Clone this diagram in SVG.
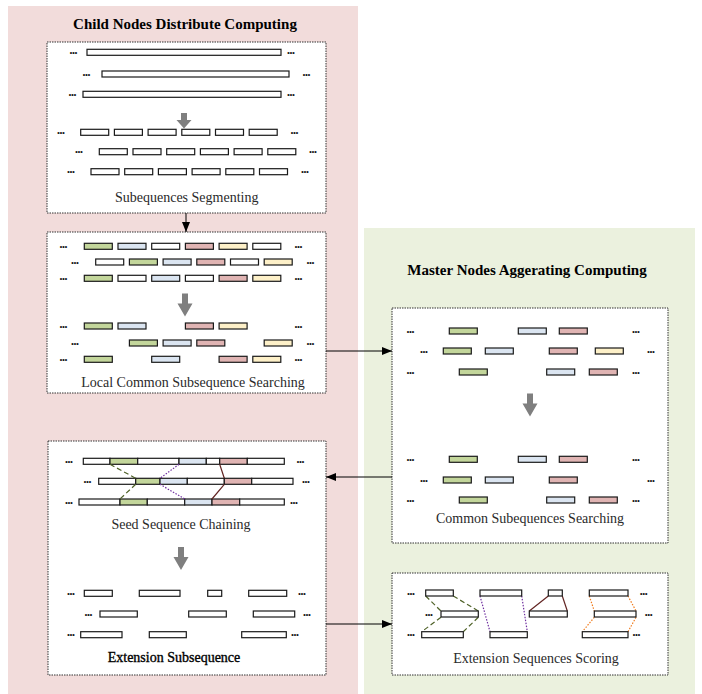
<svg xmlns="http://www.w3.org/2000/svg" width="702" height="694" viewBox="0 0 702 694">
<style>
.bar{fill:#fff;stroke:#1a1a1a;stroke-width:1.2}
.g{fill:#c3d69b}.b{fill:#dbe5f1}.r{fill:#e0b4b3}.y{fill:#fdf0c8}
.box{fill:#fff;stroke:#333;stroke-width:1;stroke-dasharray:1.5 1}
.dots{font-family:"Liberation Sans",Arial,sans-serif;font-size:7px;font-weight:bold;fill:#111;text-anchor:middle}
.lbl{font-family:"Liberation Serif","Times New Roman",serif;font-size:14px;fill:#2a2a2a;text-anchor:middle}
.ttl{font-family:"Liberation Serif","Times New Roman",serif;font-size:15px;font-weight:bold;fill:#000;text-anchor:middle}
.garrow{fill:#7f7f7f}
.conn{stroke:#000;stroke-width:1;fill:none}
.lg{stroke:#4f6228;stroke-width:1.2;stroke-dasharray:5 3;fill:none}
.lp{stroke:#7030a0;stroke-width:1.2;stroke-dasharray:1.5 1.5;fill:none}
.lr{stroke:#632523;stroke-width:1.2;fill:none}
.lo{stroke:#f07c1e;stroke-width:1.2;stroke-dasharray:1.5 1.5;fill:none}
</style>
<defs>
<marker id="ah" markerWidth="10" markerHeight="8" refX="10" refY="4" orient="auto" markerUnits="userSpaceOnUse">
<path d="M0,0 L10,4 L0,8 Z" fill="#000"/>
</marker>
<path id="gdown" d="M-3,0 H3 V10 H7.5 L0,23 L-7.5,10 H-3 Z"/>
</defs>

<g id="region-child">
<rect x="8" y="6" width="350" height="688" fill="#f2dcdb"/>
<text class="ttl" x="185" y="29">Child Nodes Distribute Computing</text>
</g>
<g id="region-master">
<rect x="364" y="228" width="331" height="466" fill="#ebf1de"/>
<text class="ttl" x="527" y="275">Master Nodes Aggerating Computing</text>
</g>

<g id="node-segmenting">
<rect class="box" x="47" y="42" width="279" height="171"/>
<rect class="bar" x="87" y="49.3" width="194" height="6"/>
<rect class="bar" x="102" y="71" width="187" height="6"/>
<rect class="bar" x="83" y="91.3" width="198" height="6"/>
<text class="dots" x="73.5" y="54.8">•••</text><text class="dots" x="291" y="54.8">•••</text>
<text class="dots" x="86.5" y="76.5">•••</text><text class="dots" x="306.5" y="76.5">•••</text>
<text class="dots" x="72.5" y="96.8">•••</text><text class="dots" x="291" y="96.8">•••</text>
<path class="garrow" d="M181,113 H187 V120 H191.5 L184,128.5 L176.5,120 H181 Z"/>
<rect class="bar" x="80.7" y="129.3" width="28" height="6"/><rect class="bar" x="114.4" y="129.3" width="28" height="6"/><rect class="bar" x="148.1" y="129.3" width="28" height="6"/><rect class="bar" x="181.8" y="129.3" width="28" height="6"/><rect class="bar" x="215.5" y="129.3" width="28" height="6"/><rect class="bar" x="249.2" y="129.3" width="28" height="6"/>
<rect class="bar" x="99.3" y="148.7" width="28" height="6"/><rect class="bar" x="133" y="148.7" width="28" height="6"/><rect class="bar" x="166.7" y="148.7" width="28" height="6"/><rect class="bar" x="200.4" y="148.7" width="28" height="6"/><rect class="bar" x="234.1" y="148.7" width="28" height="6"/><rect class="bar" x="267.8" y="148.7" width="28" height="6"/>
<rect class="bar" x="91" y="168.7" width="28" height="6"/><rect class="bar" x="124.7" y="168.7" width="28" height="6"/><rect class="bar" x="158.4" y="168.7" width="28" height="6"/><rect class="bar" x="192.1" y="168.7" width="28" height="6"/><rect class="bar" x="225.8" y="168.7" width="28" height="6"/><rect class="bar" x="259.5" y="168.7" width="28" height="6"/>
<text class="dots" x="61" y="134.8">•••</text><text class="dots" x="294.5" y="134.8">•••</text>
<text class="dots" x="79" y="154.2">•••</text><text class="dots" x="313" y="154.2">•••</text>
<text class="dots" x="71" y="174.2">•••</text><text class="dots" x="305" y="174.2">•••</text>
<text class="lbl" x="186.7" y="201.7">Subequences Segmenting</text>
</g>

<g id="node-local-search">
<rect class="box" x="47" y="232" width="279" height="161"/>
<rect class="bar g" x="84.3" y="243.3" width="28" height="6"/><rect class="bar b" x="118" y="243.3" width="28" height="6"/><rect class="bar" x="151.7" y="243.3" width="28" height="6"/><rect class="bar r" x="185.4" y="243.3" width="28" height="6"/><rect class="bar y" x="219.1" y="243.3" width="28" height="6"/><rect class="bar" x="252.8" y="243.3" width="28" height="6"/>
<rect class="bar" x="95.7" y="259" width="28" height="6"/><rect class="bar g" x="129.4" y="259" width="28" height="6"/><rect class="bar b" x="163.1" y="259" width="28" height="6"/><rect class="bar r" x="196.8" y="259" width="28" height="6"/><rect class="bar" x="230.5" y="259" width="28" height="6"/><rect class="bar y" x="264.2" y="259" width="28" height="6"/>
<rect class="bar g" x="84.3" y="275.3" width="28" height="6"/><rect class="bar" x="118" y="275.3" width="28" height="6"/><rect class="bar b" x="151.7" y="275.3" width="28" height="6"/><rect class="bar" x="185.4" y="275.3" width="28" height="6"/><rect class="bar r" x="219.1" y="275.3" width="28" height="6"/><rect class="bar y" x="252.8" y="275.3" width="28" height="6"/>
<text class="dots" x="63.5" y="248.8">•••</text><text class="dots" x="298.5" y="248.8">•••</text>
<text class="dots" x="75" y="264.5">•••</text><text class="dots" x="310.5" y="264.5">•••</text>
<text class="dots" x="63.5" y="280.8">•••</text><text class="dots" x="298.5" y="280.8">•••</text>
<use href="#gdown" class="garrow" x="185" y="293.5"/>
<rect class="bar g" x="84.3" y="323" width="28" height="6"/><rect class="bar b" x="118" y="323" width="28" height="6"/><rect class="bar r" x="185.4" y="323" width="28" height="6"/><rect class="bar y" x="219.1" y="323" width="28" height="6"/>
<rect class="bar g" x="129.4" y="340" width="28" height="6"/><rect class="bar b" x="163.1" y="340" width="28" height="6"/><rect class="bar r" x="196.8" y="340" width="28" height="6"/><rect class="bar y" x="264.2" y="340" width="28" height="6"/>
<rect class="bar g" x="84.3" y="356.3" width="28" height="6"/><rect class="bar b" x="151.7" y="356.3" width="28" height="6"/><rect class="bar r" x="219.1" y="356.3" width="28" height="6"/><rect class="bar y" x="252.8" y="356.3" width="28" height="6"/>
<text class="dots" x="63.5" y="328.5">•••</text><text class="dots" x="298.5" y="328.5">•••</text>
<text class="dots" x="75" y="345.5">•••</text><text class="dots" x="310.5" y="345.5">•••</text>
<text class="dots" x="63.5" y="361.8">•••</text><text class="dots" x="298.5" y="361.8">•••</text>
<text class="lbl" x="193" y="387">Local Common Subsequence Searching</text>
</g>

<g id="node-common-search">
<rect class="box" x="392" y="308" width="276" height="235"/>
<rect class="bar g" x="449.3" y="328" width="28" height="6"/><rect class="bar b" x="518.3" y="328" width="28" height="6"/><rect class="bar r" x="559.3" y="328" width="28" height="6"/>
<rect class="bar g" x="443.3" y="348" width="28" height="6"/><rect class="bar b" x="485.3" y="348" width="28" height="6"/><rect class="bar r" x="549.3" y="348" width="28" height="6"/><rect class="bar y" x="595.3" y="348" width="28" height="6"/>
<rect class="bar g" x="459.3" y="369" width="28" height="6"/><rect class="bar b" x="546.7" y="369" width="28" height="6"/><rect class="bar r" x="589.3" y="369" width="28" height="6"/>
<text class="dots" x="410.5" y="333.5">•••</text><text class="dots" x="636" y="333.5">•••</text>
<text class="dots" x="424" y="353.5">•••</text><text class="dots" x="651" y="353.5">•••</text>
<text class="dots" x="410.5" y="374.5">•••</text><text class="dots" x="636" y="374.5">•••</text>
<use href="#gdown" class="garrow" x="530" y="393.5"/>
<rect class="bar g" x="449.3" y="456.3" width="28" height="6"/><rect class="bar b" x="518.3" y="456.3" width="28" height="6"/><rect class="bar r" x="559.3" y="456.3" width="28" height="6"/>
<rect class="bar g" x="443.3" y="477" width="28" height="6"/><rect class="bar b" x="485.3" y="477" width="28" height="6"/><rect class="bar r" x="549.3" y="477" width="28" height="6"/>
<rect class="bar g" x="459.3" y="497" width="28" height="6"/><rect class="bar b" x="546.7" y="497" width="28" height="6"/><rect class="bar r" x="589.3" y="497" width="28" height="6"/>
<text class="dots" x="410.5" y="461.8">•••</text><text class="dots" x="636" y="461.8">•••</text>
<text class="dots" x="424" y="482.5">•••</text><text class="dots" x="651" y="482.5">•••</text>
<text class="dots" x="410.5" y="502.5">•••</text><text class="dots" x="636" y="502.5">•••</text>
<text class="lbl" x="530" y="523">Common Subequences Searching</text>
</g>

<g id="node-seed-chaining">
<rect class="box" x="48" y="441" width="278" height="234"/>
<rect class="bar" x="83.3" y="458.3" width="26.7" height="6"/><rect class="bar g" x="110" y="458.3" width="27.7" height="6"/><rect class="bar" x="137.7" y="458.3" width="41.3" height="6"/><rect class="bar b" x="179" y="458.3" width="27.3" height="6"/><rect class="bar" x="206.3" y="458.3" width="13.4" height="6"/><rect class="bar r" x="219.7" y="458.3" width="27.6" height="6"/><rect class="bar" x="247.3" y="458.3" width="37" height="6"/>
<rect class="bar" x="98.7" y="478.3" width="37" height="6"/><rect class="bar g" x="135.7" y="478.3" width="24.3" height="6"/><rect class="bar b" x="160" y="478.3" width="27.3" height="6"/><rect class="bar" x="187.3" y="478.3" width="37" height="6"/><rect class="bar r" x="224.3" y="478.3" width="27.4" height="6"/><rect class="bar" x="251.7" y="478.3" width="41.3" height="6"/>
<rect class="bar" x="79" y="499" width="41" height="6"/><rect class="bar g" x="120" y="499" width="27.3" height="6"/><rect class="bar" x="147.3" y="499" width="37.4" height="6"/><rect class="bar b" x="184.7" y="499" width="27.3" height="6"/><rect class="bar r" x="212" y="499" width="27.7" height="6"/><rect class="bar" x="239.7" y="499" width="44.6" height="6"/>
<path class="lg" d="M110,464.3 L135.7,478.3 M135.7,484.3 L120,499"/>
<path class="lp" d="M179,464.3 L160,478.3 M160,484.3 L184.7,499"/>
<path class="lr" d="M219.7,464.3 L224.3,478.3 M224.3,484.3 L212,499"/>
<text class="dots" x="69" y="463.8">•••</text><text class="dots" x="300.5" y="463.8">•••</text>
<text class="dots" x="87.5" y="483.8">•••</text><text class="dots" x="306" y="483.8">•••</text>
<text class="dots" x="69" y="504.5">•••</text><text class="dots" x="294" y="504.5">•••</text>
<text class="lbl" x="181" y="529">Seed Sequence Chaining</text>
<use href="#gdown" class="garrow" x="181" y="547"/>
<rect class="bar" x="84.3" y="590.3" width="28" height="6"/><rect class="bar" x="139.3" y="590.3" width="40.7" height="6"/><rect class="bar" x="207.7" y="590.3" width="14" height="6"/><rect class="bar" x="248.7" y="590.3" width="38" height="6"/>
<rect class="bar" x="100" y="611" width="37.3" height="6"/><rect class="bar" x="188.7" y="611" width="37.6" height="6"/><rect class="bar" x="253.3" y="611" width="41.4" height="6"/>
<rect class="bar" x="80.7" y="631.7" width="41.3" height="6"/><rect class="bar" x="149.3" y="631.7" width="37" height="6"/><rect class="bar" x="241.7" y="631.7" width="44.6" height="6"/>
<text class="dots" x="71" y="595.8">•••</text><text class="dots" x="302" y="595.8">•••</text>
<text class="dots" x="88.5" y="616.5">•••</text><text class="dots" x="307" y="616.5">•••</text>
<text class="dots" x="71" y="637.2">•••</text><text class="dots" x="295" y="637.2">•••</text>
<text class="lbl" x="174" y="661.7" style="fill:#000;stroke:#000;stroke-width:0.35">Extension Subsequence</text>
</g>

<g id="node-scoring">
<rect class="box" x="392" y="573" width="276" height="102"/>
<path class="lg" d="M425.7,596 L441,611 M441,617.3 L421.7,631.7 M453.3,596 L478.3,611 M478.3,617.3 L463.3,631.7"/>
<path class="lp" d="M480,596 L490,631.7 M521.7,596 L527.3,631.7"/>
<path class="lr" d="M548.3,596 L529.3,611 M562.3,596 L567.3,611"/>
<path class="lo" d="M589.3,596 L594.3,611 M594.3,617.3 L582.3,631.7 M628,596 L636,611 M636,617.3 L628,631.7"/>
<rect class="bar" x="425.7" y="590" width="27.6" height="6"/><rect class="bar" x="441" y="611" width="37.3" height="6"/><rect class="bar" x="421.7" y="631.7" width="41.6" height="6"/>
<rect class="bar" x="480" y="590" width="41.7" height="6"/><rect class="bar" x="490" y="631.7" width="37.3" height="6"/>
<rect class="bar" x="548.3" y="590" width="14" height="6"/><rect class="bar" x="529.3" y="611" width="38" height="6"/>
<rect class="bar" x="589.3" y="590" width="38.7" height="6"/><rect class="bar" x="594.3" y="611" width="41.7" height="6"/><rect class="bar" x="582.3" y="631.7" width="45.7" height="6"/>
<text class="dots" x="411" y="595.5">•••</text><text class="dots" x="429" y="616.5">•••</text><text class="dots" x="411" y="637.2">•••</text>
<text class="dots" x="643.8" y="595.5">•••</text><text class="dots" x="648.8" y="616.5">•••</text><text class="dots" x="636.5" y="637.2">•••</text>
<text class="lbl" x="536" y="663">Extension Sequences Scoring</text>
</g>

<g id="connectors">
<path class="conn" d="M186,213 V232" marker-end="url(#ah)"/>
<path class="conn" d="M326,351 H392" marker-end="url(#ah)"/>
<path class="conn" d="M392,477 H326" marker-end="url(#ah)"/>
<path class="conn" d="M326,624 H392" marker-end="url(#ah)"/>
</g>
</svg>
